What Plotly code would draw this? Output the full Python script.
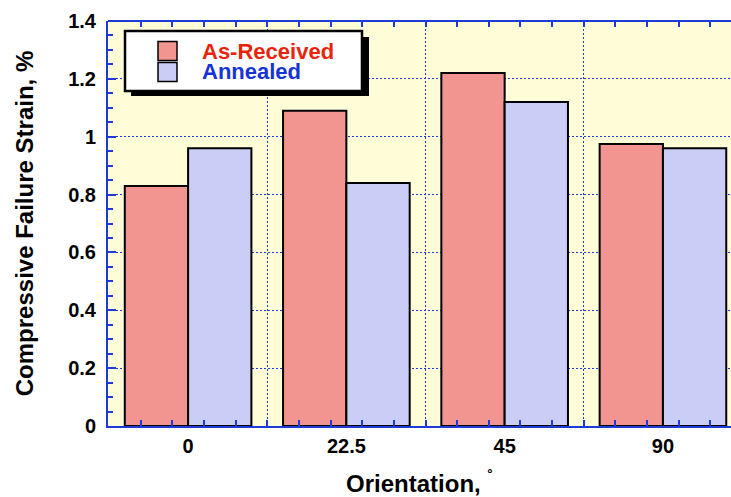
import plotly.graph_objects as go

# Compressive failure strain by fibre orientation
orientations = ["0", "22.5", "45", "90"]
as_received = [0.83, 1.09, 1.22, 0.975]
annealed = [0.96, 0.84, 1.12, 0.96]

RED_FILL = "#f2948f"
BLUE_FILL = "#cacdf5"
AXIS_BLUE = "#1f3bd6"
FONT = "Liberation Sans, Arial, Helvetica, sans-serif"

pos = list(range(len(orientations)))

fig = go.Figure()
fig.add_trace(go.Bar(x=pos, y=as_received, name="As-Received",
                     marker=dict(color=RED_FILL, line=dict(color="black", width=2)),
                     showlegend=False))
fig.add_trace(go.Bar(x=pos, y=annealed, name="Annealed",
                     marker=dict(color=BLUE_FILL, line=dict(color="black", width=2)),
                     showlegend=False))

tick_font = dict(family=FONT, size=20, color="black", weight="bold")
title_font = dict(family=FONT, size=24, color="black", weight="bold")
x_range = [-0.506, 3.43]
grid = dict(showgrid=True, gridcolor=AXIS_BLUE, griddash="2px,2px", gridwidth=1.3)
edge_ticks = dict(ticks="inside", ticklen=6, tickcolor=AXIS_BLUE, tickwidth=1.5,
                  zeroline=False,
                  minor=dict(tick0=0.1, dtick=0.2, ticks="inside", ticklen=6,
                             tickcolor=AXIS_BLUE, tickwidth=1.5, showgrid=False))

fig.update_layout(
    width=731, height=497,
    margin=dict(l=108, r=0, t=21, b=71),
    paper_bgcolor="white",
    plot_bgcolor="#fffdd8",
    barmode="group", bargap=0.2, bargroupgap=0,
    # bottom edge: boundary ticks and grid between orientation groups
    xaxis=dict(
        range=x_range,
        tickmode="array", tickvals=[0.5, 1.5, 2.5], ticktext=[""] * 3,
        showline=True, linecolor=AXIS_BLUE, linewidth=2,
        **edge_ticks, **grid,
    ),
    # top edge: tick marks only
    xaxis3=dict(
        overlaying="x", side="top", range=x_range,
        tickmode="array", tickvals=[0.5, 1.5, 2.5], ticktext=[""] * 3,
        showgrid=False, showline=False, automargin=False, **edge_ticks,
    ),
    # orientation labels centred on each group
    xaxis2=dict(
        overlaying="x", side="bottom", range=x_range,
        tickmode="array", tickvals=pos, ticktext=orientations,
        ticks="", showgrid=False, showline=False, zeroline=False,
        tickfont=tick_font, ticklabelstandoff=6, automargin=False,
        title=dict(text="Orientation, <sup>˚</sup>", standoff=20, font=title_font),
    ),
    yaxis=dict(
        range=[0, 1.4], dtick=0.2, tick0=0,
        ticks="inside", ticklen=8, tickcolor=AXIS_BLUE, tickwidth=1.5,
        showline=True, linecolor=AXIS_BLUE, linewidth=2, mirror=False,
        minor=dict(dtick=0.05, ticks="inside", ticklen=5,
                   tickcolor=AXIS_BLUE, tickwidth=1.5, showgrid=False),
        tickfont=tick_font, ticklabelstandoff=6, automargin=False,
        zeroline=False,
        title=dict(text="Compressive Failure Strain, %", standoff=28, font=title_font),
        **grid,
    ),
)

# Invisible traces so the label and top axes are drawn
for ax in ("x2", "x3"):
    fig.add_trace(go.Scatter(x=[pos[0]], y=[0], xaxis=ax, mode="markers",
                             marker=dict(opacity=0), showlegend=False, hoverinfo="skip"))

# Top frame line
fig.add_shape(type="line", xref="paper", yref="paper", x0=0, x1=1, y0=1, y1=1,
              line=dict(color=AXIS_BLUE, width=2), layer="above")

# Legend box with drop shadow, in pixel-based paper coordinates
W, H = 731 - 108, 497 - 21 - 71
def px(x):
    return (x - 108) / W
def py(y):
    return (497 - 71 - y) / H

fig.add_shape(type="rect", xref="paper", yref="paper",
              x0=px(131), x1=px(369), y0=py(96), y1=py(37),
              fillcolor="black", line=dict(width=0), layer="above")
fig.add_shape(type="rect", xref="paper", yref="paper",
              x0=px(125), x1=px(362), y0=py(91), y1=py(31),
              fillcolor="white", line=dict(color="black", width=2.5), layer="above")

entries = [("As-Received", RED_FILL, "#e8250a", 51),
           ("Annealed", BLUE_FILL, "#1633d8", 72)]
for label, fill, txt, yc in entries:
    fig.add_shape(type="rect", xref="paper", yref="paper",
                  x0=px(158), x1=px(177), y0=py(yc + 9.5), y1=py(yc - 9.5),
                  fillcolor=fill, line=dict(color="black", width=1.5), layer="above")
    fig.add_annotation(xref="paper", yref="paper", x=px(201), y=py(yc),
                       xanchor="left", yanchor="middle", showarrow=False,
                       height=19, valign="middle", borderpad=0,
                       text=label,
                       font=dict(family=FONT, size=22, color=txt, weight="bold"))

fig.write_html("out.html")
